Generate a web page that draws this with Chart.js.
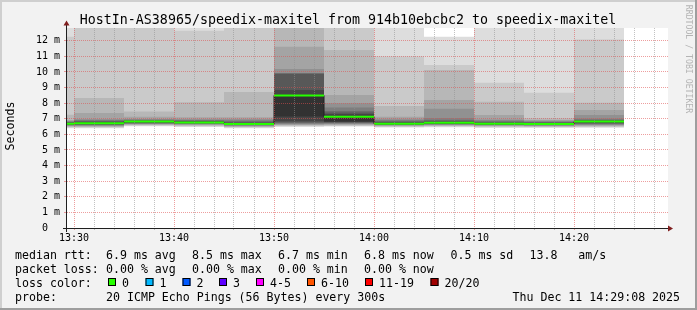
<!DOCTYPE html>
<html>
<head>
<meta charset="utf-8">
<script src="https://cdn.jsdelivr.net/npm/chart.js@4.4.1/dist/chart.umd.min.js"></script>
<style>
  html, body { margin: 0; padding: 0; background: #f2f2f2; }
  canvas { display: block; }
</style>
</head>
<body>
<canvas id="pingChart" width="697" height="310"></canvas>
<script>
// 5 minute slots (start time of each slot)
const slotStart = ['13:25', '13:30', '13:35', '13:40', '13:45', '13:50',
                   '13:55', '14:00', '14:05', '14:10', '14:15', '14:20'];

// median rtt per slot (ms)
const median = [6.68, 6.72, 6.82, 6.77, 6.66, 8.50, 7.13, 6.68, 6.74, 6.68, 6.67, 6.82];

// 20 sorted pings per slot (ms)
const s1325 = [6.40, 6.45, 6.49, 6.53, 6.56, 6.59, 6.61, 6.63, 6.65, 6.66, 6.68, 6.72, 6.76, 6.80, 6.83, 6.86, 6.92, 7.26, 12.26, 13.6];
const s1330 = [6.40, 6.44, 6.48, 6.52, 6.55, 6.58, 6.61, 6.64, 6.67, 6.69, 6.72, 6.77, 6.82, 6.87, 6.92, 6.99, 7.37, 8.33, 13.3, 14.1];
const s1335 = [6.52, 6.56, 6.60, 6.63, 6.66, 6.69, 6.72, 6.75, 6.78, 6.80, 6.82, 6.85, 6.88, 6.91, 6.95, 6.99, 7.13, 7.46, 13.2, 14.0];
const s1340 = [6.48, 6.52, 6.56, 6.60, 6.63, 6.66, 6.69, 6.71, 6.73, 6.75, 6.77, 6.81, 6.85, 6.89, 6.93, 6.98, 7.10, 8.06, 12.64, 13.5];
const s1345 = [6.40, 6.44, 6.48, 6.51, 6.54, 6.57, 6.60, 6.62, 6.64, 6.65, 6.66, 6.72, 6.78, 6.84, 6.90, 6.98, 7.10, 8.72, 13.3, 14.2];
const s1350 = [6.49, 6.53, 6.57, 6.61, 6.65, 6.69, 6.73, 6.78, 6.84, 7.15, 8.50, 8.85, 9.88, 9.90, 9.92, 10.19, 11.62, 13.4, 14.3, 15.1];
const s1355 = [6.50, 6.54, 6.58, 6.62, 6.66, 6.70, 6.74, 6.77, 6.80, 6.83, 7.13, 7.30, 7.40, 7.50, 7.72, 8.00, 8.52, 11.41, 13.2, 14.0];
const s1400 = [6.44, 6.48, 6.52, 6.55, 6.58, 6.61, 6.63, 6.65, 6.66, 6.67, 6.68, 6.74, 6.80, 6.86, 6.93, 7.00, 7.13, 7.82, 11.01, 13.4];
const s1405 = [6.46, 6.50, 6.54, 6.58, 6.61, 6.64, 6.66, 6.68, 6.70, 6.72, 6.74, 6.80, 6.86, 6.92, 7.03, 7.65, 8.20, 10.13, 10.45, 12.26];
const s1410 = [6.42, 6.46, 6.50, 6.54, 6.57, 6.60, 6.62, 6.64, 6.66, 6.67, 6.68, 6.73, 6.78, 6.83, 6.89, 6.95, 7.24, 8.10, 9.31, 13.3];
const s1415 = [6.42, 6.46, 6.50, 6.53, 6.56, 6.59, 6.61, 6.63, 6.65, 6.66, 6.67, 6.71, 6.75, 6.79, 6.83, 6.87, 6.93, 7.03, 8.67, 13.2];
const s1420 = [6.42, 6.47, 6.52, 6.56, 6.60, 6.64, 6.68, 6.72, 6.76, 6.79, 6.82, 6.86, 6.90, 6.94, 7.00, 7.24, 7.56, 8.03, 12.09, 13.5];
const smoke = [s1325, s1330, s1335, s1340, s1345, s1350, s1355, s1400, s1405, s1410, s1415, s1420];

// axis labels
const xTickLabels = ['13:30', '13:40', '13:50', '14:00', '14:10', '14:20'];
const yMax = 12.82;

// texts
const chartTitle = 'HostIn-AS38965/speedix-maxitel from 914b10ebcbc2 to speedix-maxitel';
const yAxisTitle = 'Seconds';
const watermark = 'RRDTOOL / TOBI OETIKER';
const rttStats = ['6.9 ms avg', '8.5 ms max', '6.7 ms min', '6.8 ms now', '0.5 ms sd', '13.8   am/s'];
const lossStats = ['0.00 % avg', '0.00 % max', '0.00 % min', '0.00 % now'];
const lossLabels = ['0', '1', '2', '3', '4-5', '6-10', '11-19', '20/20'];
const probeText = '20 ICMP Echo Pings (56 Bytes) every 300s';
const stampText = 'Thu Dec 11 14:29:08 2025';

// styles
const lossColors = ['#26ff00', '#00b8ff', '#0059ff', '#5e00ff', '#ff00ff', '#ff5500', '#ff0000', '#a10000'];
const smokeGray = ['#dddddd', '#cacaca', '#b7b7b7', '#a4a4a4', '#919191', '#7e7e7e', '#6b6b6b', '#585858', '#454545', '#323232'];
const GRID = 'rgba(143,143,143,0.55)';
const MGRID = 'rgba(222,79,79,0.55)';
const MONO = '"DejaVu Sans Mono", "Liberation Mono", monospace';

// minutes relative to 13:30
const toMin = t => {
    const [h, m] = t.split(':').map(Number);
    return h * 60 + m - (13 * 60 + 30);
};
const slotMid = slotStart.map(t => toMin(t) + 2.5);

// smoke: band i goes from ping i to ping 21-i, outer bands light, inner dark
const smokeSets = smokeGray.map((color, i) => ({
    type: 'bar',
    data: smoke.map((p, k) => ({ x: slotMid[k], y: [p[i], p[19 - i]] })),
    backgroundColor: color,
    borderWidth: 0,
    stack: 'smoke',
    barThickness: 'flex',
    barPercentage: 1,
    categoryPercentage: 1,
    inflateAmount: 0,
    clip: 0,
    order: 11 - i
}));

// median: thin dark step line + green segments
const last = slotStart.length - 1;
const stepData = slotStart.map((t, k) => ({ x: toMin(t), y: median[k] }));
stepData.push({ x: toMin(slotStart[last]) + 5, y: median[last] });

const greenData = [];
slotStart.forEach((t, k) => {
    const x0 = toMin(t);
    greenData.push({ x: x0, y: median[k] }, { x: x0 + 5, y: median[k] }, { x: x0 + 5, y: null });
});

const rrdFrame = {
    id: 'rrdFrame',
    beforeDraw(chart) {
        const { ctx, width, height, chartArea: a } = chart;
        ctx.save();
        ctx.fillStyle = '#f2f2f2';
        ctx.fillRect(0, 0, width, height);
        ctx.fillStyle = '#cfcfcf';
        ctx.fillRect(0, 0, width, 2);
        ctx.fillRect(0, 0, 2, height);
        ctx.fillStyle = '#9e9e9e';
        ctx.fillRect(0, height - 2, width, 2);
        ctx.fillRect(width - 2, 0, 2, height);
        ctx.fillStyle = '#ffffff';
        ctx.fillRect(a.left, a.top, a.right - a.left, a.bottom - a.top);
        ctx.restore();
    },
    afterDraw(chart) {
        const { ctx, chartArea: a } = chart;
        ctx.save();

        // axes
        ctx.strokeStyle = '#1f1f1f';
        ctx.lineWidth = 1;
        ctx.beginPath();
        ctx.moveTo(a.left - 4, a.bottom + 0.5);
        ctx.lineTo(a.right + 1, a.bottom + 0.5);
        ctx.moveTo(a.left - 0.5, a.bottom + 4);
        ctx.lineTo(a.left - 0.5, a.top - 3);
        ctx.stroke();

        // arrows
        ctx.fillStyle = '#801f1f';
        ctx.beginPath();
        ctx.moveTo(a.right, a.bottom - 2.5);
        ctx.lineTo(a.right + 5, a.bottom + 0.5);
        ctx.lineTo(a.right, a.bottom + 3.5);
        ctx.closePath();
        ctx.fill();
        ctx.beginPath();
        ctx.moveTo(a.left - 3.5, a.top - 2.5);
        ctx.lineTo(a.left - 0.5, a.top - 7.5);
        ctx.lineTo(a.left + 2.5, a.top - 2.5);
        ctx.closePath();
        ctx.fill();

        // title
        ctx.fillStyle = '#000';
        ctx.font = '13.3px ' + MONO;
        ctx.textAlign = 'center';
        ctx.textBaseline = 'alphabetic';
        ctx.fillText(chartTitle, 348, 24);

        // vertical axis title
        ctx.save();
        ctx.font = '11.6px ' + MONO;
        ctx.translate(10.5, 126);
        ctx.rotate(-Math.PI / 2);
        ctx.textBaseline = 'middle';
        ctx.fillText(yAxisTitle, 0, 0);
        ctx.restore();

        // watermark
        ctx.save();
        ctx.font = '8.2px ' + MONO;
        ctx.fillStyle = '#b4b4b4';
        ctx.translate(688, 59);
        ctx.rotate(Math.PI / 2);
        ctx.textBaseline = 'middle';
        ctx.fillText(watermark, 0, 0);
        ctx.restore();

        // legend
        ctx.font = '11.6px ' + MONO;
        ctx.textAlign = 'left';
        ctx.textBaseline = 'alphabetic';
        ctx.fillStyle = '#000';
        const rows = [258.5, 272.5, 286.5, 300.5];
        const statX = [106, 192, 278, 364, 450.5, 529.5];
        ctx.fillText('median rtt:', 15, rows[0]);
        rttStats.forEach((s, i) => ctx.fillText(s, statX[i], rows[0]));
        ctx.fillText('packet loss:', 15, rows[1]);
        lossStats.forEach((s, i) => ctx.fillText(s, statX[i], rows[1]));
        ctx.fillText('loss color:', 15, rows[2]);
        const boxX = [108, 145.5, 182.5, 219, 256, 307, 365, 430.5];
        lossLabels.forEach((s, i) => {
            ctx.fillStyle = lossColors[i];
            ctx.fillRect(boxX[i], rows[2] - 8.5, 8, 8);
            ctx.strokeStyle = '#000';
            ctx.strokeRect(boxX[i] + 0.5, rows[2] - 8, 7, 7);
            ctx.fillStyle = '#000';
            ctx.fillText(s, boxX[i] + 14, rows[2]);
        });
        ctx.fillText('probe:', 15, rows[3]);
        ctx.fillText(probeText, 106, rows[3]);
        ctx.fillText(stampText, 512.5, rows[3]);

        ctx.restore();
    }
};

new Chart(document.getElementById('pingChart'), {
    type: 'bar',
    data: {
        datasets: [
            {
                type: 'line',
                data: greenData,
                borderColor: lossColors[0],
                borderWidth: 2,
                borderCapStyle: 'butt',
                pointRadius: 0,
                fill: false,
                spanGaps: false,
                clip: 0,
                order: 0
            },
            {
                type: 'line',
                data: stepData,
                stepped: true,
                borderColor: '#202020',
                borderWidth: 1,
                pointRadius: 0,
                fill: false,
                clip: 0,
                order: 1
            },
            ...smokeSets
        ]
    },
    options: {
        responsive: false,
        animation: false,
        events: [],
        layout: { padding: { left: 0, right: 29, top: 28, bottom: 0 } },
        plugins: { legend: { display: false }, tooltip: { enabled: false } },
        scales: {
            x: {
                type: 'linear',
                min: -0.7,
                max: 59.4,
                offset: false,
                afterBuildTicks: s => {
                    s.ticks = Array.from({ length: 30 }, (_, i) => ({ value: i * 2 }));
                },
                afterFit: s => { s.height = 82; },
                grid: {
                    offset: false,
                    z: 1,
                    color: c => (c.tick && c.tick.value % 10 === 0) ? MGRID : GRID,
                    tickColor: c => (c.tick && c.tick.value % 10 === 0) ? MGRID : GRID,
                    tickLength: 2
                },
                border: { display: false, dash: [1, 1] },
                ticks: {
                    autoSkip: false,
                    maxRotation: 0,
                    padding: 2.5,
                    color: '#000',
                    font: { family: MONO, size: 10 },
                    callback: v => v % 10 === 0 ? xTickLabels[v / 10] : ''
                }
            },
            y: {
                min: 0,
                max: yMax,
                stacked: false,
                afterBuildTicks: s => {
                    s.ticks = Array.from({ length: 26 }, (_, i) => ({ value: i / 2 }));
                },
                afterFit: s => { s.width = 67; },
                grid: {
                    z: 1,
                    color: c => (c.tick && Number.isInteger(c.tick.value)) ? MGRID : GRID,
                    tickColor: c => (c.tick && Number.isInteger(c.tick.value)) ? MGRID : GRID,
                    tickLength: 3
                },
                border: { display: false, dash: [1, 1] },
                ticks: {
                    padding: 4,
                    color: '#000',
                    font: { family: MONO, size: 10 },
                    callback: v => Number.isInteger(v) ? (v === 0 ? '0  ' : v + ' m') : ''
                }
            }
        }
    },
    plugins: [rrdFrame]
});
</script>
</body>
</html>
